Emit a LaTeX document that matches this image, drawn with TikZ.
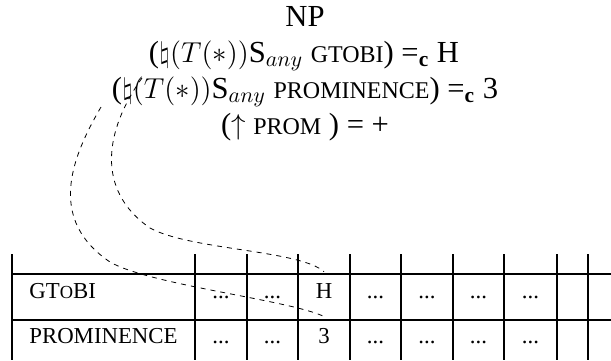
\documentclass[tikz,border=0pt]{standalone}
\usepackage{fontspec}
\setmainfont{Liberation Serif}
\newcommand{\smc}[1]{{\fontsize{12}{14}\selectfont #1}}
\newcommand{\tsc}[1]{{\fontsize{9.2}{11}\selectfont #1}}
\tikzset{
  line/.style={anchor=base,inner sep=0pt,font=\fontsize{15.3}{18}\selectfont},
  label/.style={anchor=base west,inner sep=0pt},
  cell/.style={anchor=base,inner sep=5.5pt},
  grid/.style={line width=0.75pt},
  link/.style={dash pattern=on 2.5pt off 2.5pt,line width=0.4pt}
}
\begin{document}
\begin{tikzpicture}[x=0.5pt,y=-0.5pt,font=\fontsize{11.4}{13.7}\selectfont]
  \useasboundingbox (0,0) rectangle (611,360);
  % constraints on the NP
  \node[line] (np) at (305,26) {NP};
  \node[line] (gtobi) at (304,62) {($\natural(T(*))$S$_{any}$ \smc{GTOBI}) =\textsubscript{\textbf{c}} H};
  \node[line] (prom) at (305,98) {($\natural(T(*))$S$_{any}$ \smc{PROMINENCE}) =\textsubscript{\textbf{c}} 3};
  \node[line] (up) at (305,134) {($\uparrow$ \smc{PROM} ) = +};
  % the tiers
  \foreach \x in {12,195,247,298,350,401,453,504,557,588}
    \draw[grid] (\x,254) -- (\x,360);
  \foreach \y in {274,320}
    \draw[grid] (12,\y) -- (611,\y);
  \node[label] (tg) at (29,298) {GT\tsc{O}BI};
  \node[label] (tp) at (29,343) {PROMINENCE};
  \foreach \x/\n in {221/1,272.5/2,375.5/4,427/5,478.5/6,530.5/7} {
    \node[cell] (g\n) at (\x,298) {...};
    \node[cell] (p\n) at (\x,343) {...};
  }
  \node[cell] (h) at (324,298) {H};
  \node[cell] (three) at (324,343) {3};
  % links from the f-structure to the tiers
  \coordinate (natG) at (142,78);
  \coordinate (natP) at (101,107);
  \draw[link] (natG) .. controls (105,130) and (95,190) .. (150,228)
    .. controls (190,250) and (300,250) .. (h.north);
  \draw[link] (natP) .. controls (70,160) and (48,220) .. (110,262)
    .. controls (150,285) and (290,300) .. (three.north);
\end{tikzpicture}
\end{document}
